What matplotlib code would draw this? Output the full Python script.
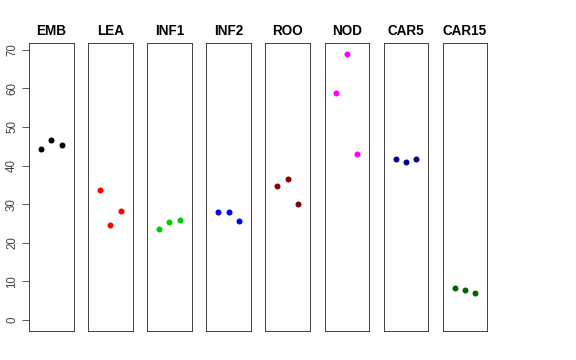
import numpy as np
import matplotlib
matplotlib.use('Agg')
import matplotlib.pyplot as plt

plt.rcParams['font.family'] = ['Liberation Sans', 'DejaVu Sans']

# Datos
grupos = ['EMB', 'LEA', 'INF1', 'INF2', 'ROO', 'NOD', 'CAR5', 'CAR15']
colores = ['black', 'red', '#00CD00', 'blue', '#8B0000', '#FF00FF', '#00008B', '#006400']
valores = [
    [44.3, 46.5, 45.2],
    [33.8, 24.6, 28.2],
    [23.7, 25.5, 25.8],
    [27.9, 27.9, 25.6],
    [34.7, 36.6, 30.0],
    [58.8, 68.9, 42.9],
    [41.8, 40.8, 41.8],
    [8.4, 7.8, 7.0],
]
replicas = [1, 2, 3]

ymax = max(max(v) for v in valores)
ylim = (0 - 0.04 * ymax, ymax * 1.04)

fig = plt.figure(figsize=(8, 5), dpi=72)

W, H = 576.0, 360.0
izq0, paso, ancho = 29.0, 59.1, 44.5
arriba, abajo = 43.3, 330.7

for i, (g, c, v) in enumerate(zip(grupos, colores, valores)):
    x0 = izq0 + i * paso
    ax = fig.add_axes([x0 / W, 1 - abajo / H, ancho / W, (abajo - arriba) / H])
    ax.plot(replicas, v, 'o', color=c, markersize=6, markeredgewidth=0)
    ax.set_xlim(-0.16, 4.16)
    ax.set_ylim(*ylim)
    ax.set_xticks([])
    for s in ax.spines.values():
        s.set_linewidth(0.9)
        s.set_color('#333333')
    ax.set_title(g, fontsize=13.5, fontweight='bold', pad=8.5)
    if i == 0:
        ax.set_yticks(np.arange(0, 71, 10))
        ax.tick_params(axis='y', length=7, width=0.8, pad=4, labelsize=11.5,
                       colors='#333333', labelcolor='#444444')
        for t in ax.get_yticklabels():
            t.set_rotation(90)
            t.set_va('center')
    else:
        ax.set_yticks([])

fig.savefig('out.png', dpi=72)
